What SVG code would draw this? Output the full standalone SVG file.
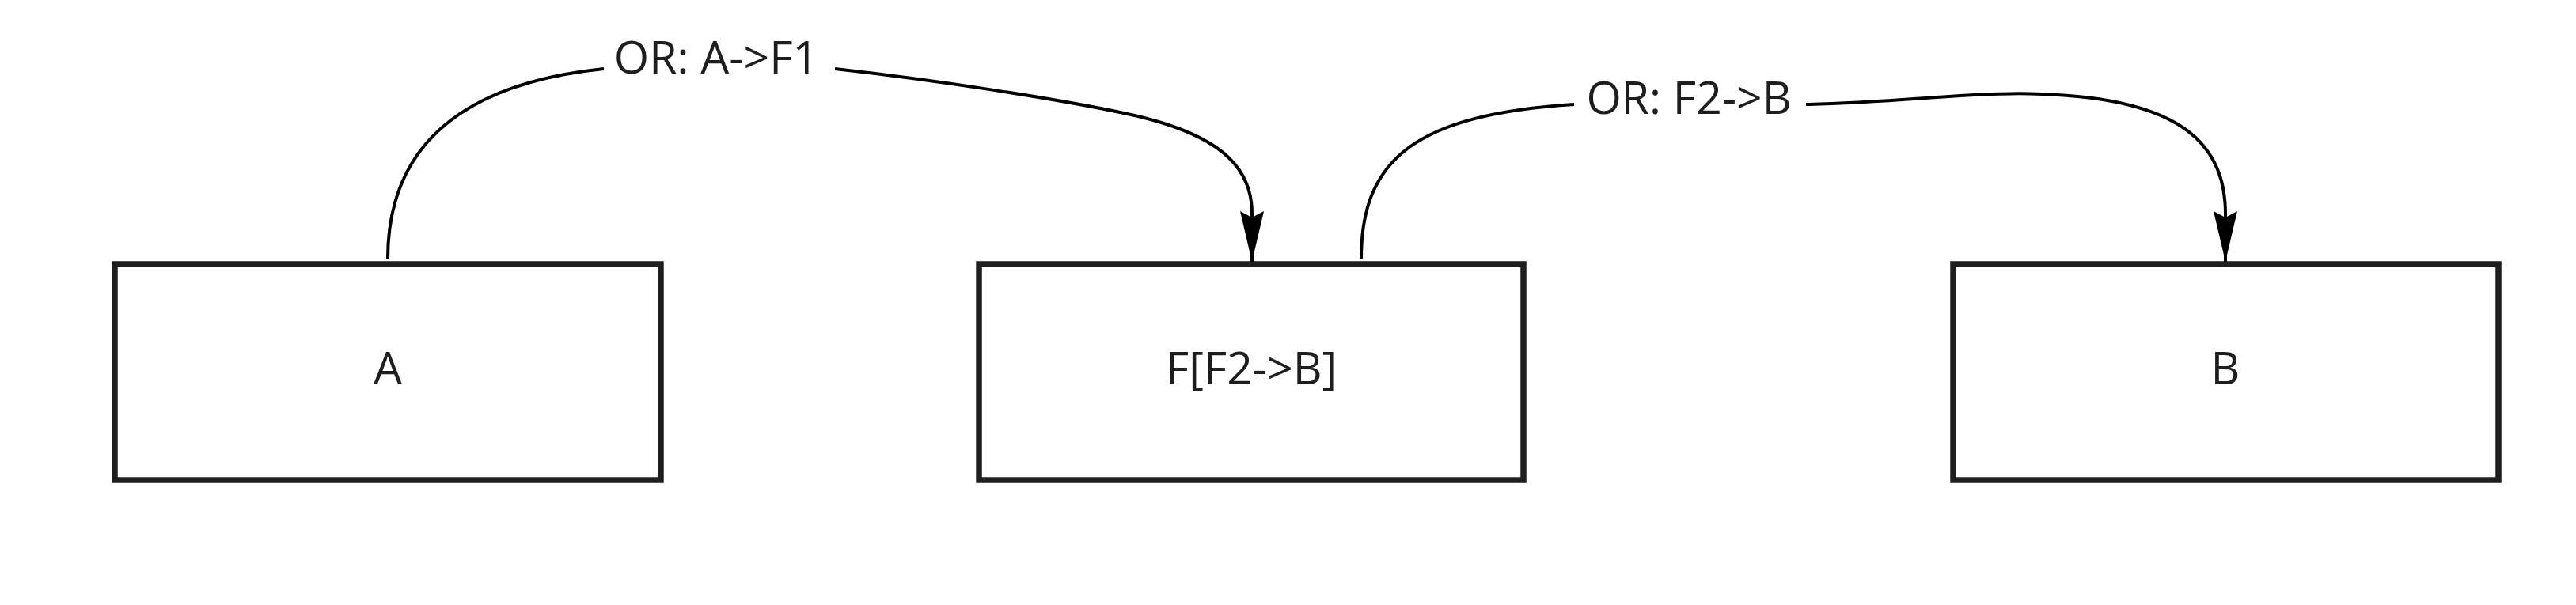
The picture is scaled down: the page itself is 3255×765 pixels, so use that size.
<svg xmlns="http://www.w3.org/2000/svg" width="3255" height="765" viewBox="0 0 3255 765">
<style>
.box{fill:#ffffff;stroke:#1e1e1e;stroke-width:7.5}
.lbl{font-family:"Open Sans","Noto Sans",sans-serif;font-size:57px;fill:#1e1e1e;text-anchor:middle}
.edge{fill:none;stroke:#000000;stroke-width:4}
</style>
<defs>
<marker id="arr" markerUnits="userSpaceOnUse" markerWidth="66" markerHeight="32" viewBox="0 0 66 32" refX="64" refY="16" orient="auto">
<path d="M0,1 L64,16 L0,31 L8,16 Z" fill="#000000"/>
</marker>
</defs>
<rect width="3255" height="765" fill="#ffffff"/>
<g id="node-A">
<rect class="box" x="145" y="334" width="690" height="273"/>
<text class="lbl" x="490" y="486">A</text>
</g>
<g id="node-F">
<rect class="box" x="1237" y="334" width="688" height="273"/>
<text class="lbl" x="1581" y="486">F[F2-&gt;B]</text>
</g>
<g id="node-B">
<rect class="box" x="2468" y="334" width="689" height="273"/>
<text class="lbl" x="2812" y="486">B</text>
</g>
<g id="connectors">
<path class="edge" d="M490,327 C490,180 590,105 763,87"/>
<path class="edge" d="M1055,87 C1180,101 1330,124 1420,143 C1540,168 1582,210 1582,270 L1582,331" marker-end="url(#arr)"/>
<text class="lbl" x="905" y="93">OR: A-&gt;F1</text>
<path class="edge" d="M1720,327 C1720,200 1790,145 1989,132"/>
<path class="edge" d="M2282,132 C2400,130 2500,115 2580,119 C2760,125 2812,185 2812,270 L2812,331" marker-end="url(#arr)"/>
<text class="lbl" x="2134" y="144">OR: F2-&gt;B</text>
</g>
</svg>
